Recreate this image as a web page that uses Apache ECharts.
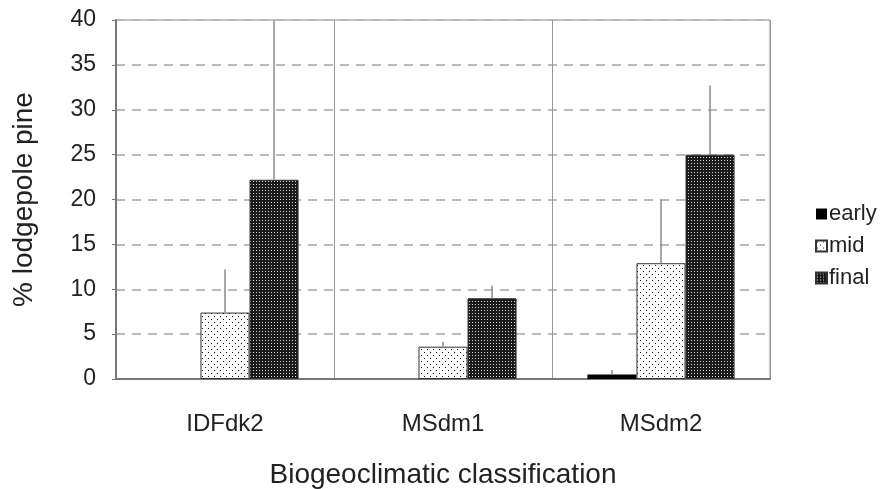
<!DOCTYPE html>
<html><head><meta charset="utf-8">
<script src="https://cdn.jsdelivr.net/npm/echarts@6/dist/echarts.min.js"></script>
<style>html,body{margin:0;padding:0;background:#fff}#c{width:890px;height:489px}</style>
</head><body><div id="c"></div>
<script>
var categories = ['IDFdk2', 'MSdm1', 'MSdm2'];
var seriesNames = ['early', 'mid', 'final'];
var earlyVals = [0, 0, 0.5];
var midVals = [7.4, 3.6, 12.9];
var finalVals = [22.2, 9.0, 25.0];
var earlyErrTop = [null, null, 1.0];
var midErrTop = [12.2, 4.15, 20.0];
var finalErrTop = [40, 10.4, 32.7];
var yTicks = [0, 5, 10, 15, 20, 25, 30, 35, 40];

function makePattern(w, h, bg, fg, dots) {
  var c = document.createElement('canvas');
  c.width = w; c.height = h;
  var ctx = c.getContext('2d');
  ctx.fillStyle = bg; ctx.fillRect(0, 0, w, h);
  ctx.fillStyle = fg;
  dots.forEach(function (d) { ctx.fillRect(d[0], d[1], 1, 1); });
  return { image: c, repeat: 'repeat' };
}
var midPattern = makePattern(6, 6, '#ffffff', '#111111', [[1, 1], [4, 4]]);
var finalPattern = makePattern(3, 3, '#1a1a1a', '#d8d8d8', [[1, 1]]);
var fills = ['#000000', midPattern, finalPattern];
var vals = [earlyVals, midVals, finalVals];
var errs = [earlyErrTop, midErrTop, finalErrTop];
var BAR_FRAC = 0.225;

var series = [];
for (var i = 0; i < 3; i++) {
  series.push({
    name: seriesNames[i], type: 'bar', data: vals[i],
    barWidth: (BAR_FRAC * 100) + '%', barGap: '0%',
    itemStyle: { color: fills[i], borderColor: '#333', borderWidth: i === 0 ? 0 : 1 },
    z: 2
  });
}
for (var j = 0; j < 3; j++) {
  (function (k) {
    var d = [];
    for (var m = 0; m < categories.length; m++) {
      if (errs[k][m] != null) d.push([m, vals[k][m], errs[k][m]]);
    }
    series.push({
      type: 'custom', name: seriesNames[k] + '_err', data: d, z: 3, clip: true,
      renderItem: function (params, api) {
        var band = api.size([1, 0])[0];
        var bw = band * BAR_FRAC;
        var p0 = api.coord([api.value(0), api.value(1)]);
        var p1 = api.coord([api.value(0), api.value(2)]);
        var x = p0[0] + (k - 1) * bw;
        return {
          type: 'line',
          shape: { x1: x, y1: p0[1], x2: x, y2: p1[1] },
          style: { stroke: '#8a8a8a', lineWidth: 1.5 }
        };
      },
      encode: { x: 0, y: 1 },
      silent: true
    });
  })(j);
}

var chart = echarts.init(document.getElementById('c'), null, { renderer: 'canvas' });
chart.setOption({
  animation: false,
  backgroundColor: '#fff',
  textStyle: { fontFamily: 'Liberation Sans, Arial, sans-serif' },
  grid: { left: 116, top: 20, right: 120, bottom: 110, show: true, borderColor: '#888', borderWidth: 1, containLabel: false, outerBoundsMode: 'none' },
  legend: {
    data: seriesNames, orient: 'vertical', left: 810, top: 198,
    itemWidth: 11, itemHeight: 11, itemGap: 10, icon: 'rect',
    textStyle: { fontSize: 22, color: '#222', padding: [0, 0, 0, -3] }
  },
  xAxis: {
    type: 'category', data: categories,
    axisLine: { lineStyle: { color: '#777', width: 2 } },
    axisTick: { show: false },
    axisLabel: { fontSize: 24, color: '#222', margin: 33 },
    splitLine: { show: true, lineStyle: { color: '#999', width: 1 } },
    name: 'Biogeoclimatic classification', nameLocation: 'middle', nameGap: 82,
    nameTextStyle: { fontSize: 28, color: '#222' }
  },
  yAxis: {
    type: 'value', min: yTicks[0], max: yTicks[yTicks.length - 1], interval: 5,
    axisLine: { show: true, lineStyle: { color: '#777', width: 2 } },
    axisTick: { show: true, length: 4, lineStyle: { color: '#777' } },
    axisLabel: { fontSize: 23, color: '#222', margin: 20 },
    splitLine: { show: true, lineStyle: { color: '#bbb', width: 2, type: [9, 7] } },
    name: '% lodgepole pine', nameLocation: 'middle', nameGap: 78,
    nameTextStyle: { fontSize: 28, color: '#222' }
  },
  series: series
});
</script></body></html>
